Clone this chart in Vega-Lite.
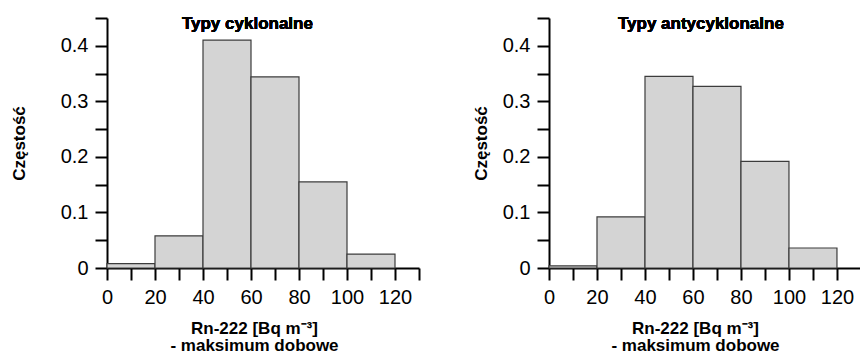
{
  "$schema": "https://vega.github.io/schema/vega-lite/v6.json",
  "background": "white",
  "padding": {"left": 10, "top": 8, "right": 0, "bottom": 0},
  "spacing": 130,
  "bounds": "flush",
  "datasets": {
    "cyklonalne": [
      {"start": 0, "end": 20, "freq": 0.008},
      {"start": 20, "end": 40, "freq": 0.058},
      {"start": 40, "end": 60, "freq": 0.41},
      {"start": 60, "end": 80, "freq": 0.344},
      {"start": 80, "end": 100, "freq": 0.155},
      {"start": 100, "end": 120, "freq": 0.025}
    ],
    "antycyklonalne": [
      {"start": 0, "end": 20, "freq": 0.004},
      {"start": 20, "end": 40, "freq": 0.092},
      {"start": 40, "end": 60, "freq": 0.345},
      {"start": 60, "end": 80, "freq": 0.327},
      {"start": 80, "end": 100, "freq": 0.192},
      {"start": 100, "end": 120, "freq": 0.036}
    ]
  },
  "hconcat": [
    {
      "width": 312,
      "height": 250,
      "data": {"name": "cyklonalne"},
      "encoding": {
        "x": {"field": "start", "type": "quantitative", "scale": {"domain": [0, 130], "nice": false, "zero": false},
          "axis": {"values": [0, 10, 20, 30, 40, 50, 60, 70, 80, 90, 100, 110, 120, 130],
            "labelExpr": "datum.value % 20 == 0 && datum.value <= 120 ? datum.label : ''",
            "title": ["Rn-222 [Bq m⁻³]", "- maksimum dobowe"],
            "titleX": 147, "titleY": 65, "titleBaseline": "alphabetic", "titleAlign": "center", "titleLineHeight": 17.5}},
        "y": {"field": "freq", "type": "quantitative", "scale": {"domain": [0, 0.45], "nice": false},
          "axis": {"values": [0, 0.05, 0.1, 0.15, 0.2, 0.25, 0.3, 0.35, 0.4, 0.45],
            "labelExpr": "abs(datum.value*10 - round(datum.value*10)) < 0.001 && datum.value < 0.42 ? (datum.value == 0 ? '0' : format(datum.value, '.1f')) : ''",
            "title": "Częstość", "titleX": -82.5, "titleY": 125, "titleAngle": 270, "titleBaseline": "alphabetic", "titleAlign": "center"}}
      },
      "layer": [
        {
          "mark": {"type": "bar", "fill": "#d4d4d4", "stroke": "#3c3c3c", "strokeWidth": 1.2},
          "encoding": {"x2": {"field": "end"}, "y2": {"datum": 0}}
        },
        {
          "mark": {"type": "text", "text": "Typy cyklonalne", "fontSize": 17, "fontWeight": "bold", "font": "Liberation Sans, Arial, sans-serif", "color": "black", "align": "center", "baseline": "alphabetic"},
          "encoding": {"x": {"datum": 58.5, "type": "quantitative"}, "y": {"datum": 0.4306, "type": "quantitative"}}
        }
      ]
    },
    {
      "width": 311,
      "height": 250,
      "data": {"name": "antycyklonalne"},
      "encoding": {
        "x": {"field": "start", "type": "quantitative", "scale": {"domain": [0, 129.6], "nice": false, "zero": false},
          "axis": {"values": [0, 10, 20, 30, 40, 50, 60, 70, 80, 90, 100, 110, 120],
            "labelExpr": "datum.value % 20 == 0 && datum.value <= 120 ? datum.label : ''",
            "title": ["Rn-222  [Bq m⁻³]", "- maksimum dobowe"],
            "titleX": 146, "titleY": 65, "titleBaseline": "alphabetic", "titleAlign": "center", "titleLineHeight": 17.5}},
        "y": {"field": "freq", "type": "quantitative", "scale": {"domain": [0, 0.45], "nice": false},
          "axis": {"values": [0, 0.05, 0.1, 0.15, 0.2, 0.25, 0.3, 0.35, 0.4, 0.45],
            "labelExpr": "abs(datum.value*10 - round(datum.value*10)) < 0.001 && datum.value < 0.42 ? (datum.value == 0 ? '0' : format(datum.value, '.1f')) : ''",
            "title": "Częstość", "titleX": -62.5, "titleY": 125, "titleAngle": 270, "titleBaseline": "alphabetic", "titleAlign": "center"}}
      },
      "layer": [
        {
          "mark": {"type": "bar", "fill": "#d4d4d4", "stroke": "#3c3c3c", "strokeWidth": 1.2},
          "encoding": {"x2": {"field": "end"}, "y2": {"datum": 0}}
        },
        {
          "mark": {"type": "text", "text": "Typy antycyklonalne", "fontSize": 17, "fontWeight": "bold", "font": "Liberation Sans, Arial, sans-serif", "color": "black", "align": "center", "baseline": "alphabetic"},
          "encoding": {"x": {"datum": 63.3, "type": "quantitative"}, "y": {"datum": 0.431, "type": "quantitative"}}
        }
      ]
    }
  ],
  "config": {
    "view": {"stroke": null},
    "axis": {
      "grid": false,
      "domainColor": "black", "domainWidth": 2,
      "tickColor": "black", "tickWidth": 2, "tickSize": 12,
      "labelFont": "Liberation Sans, Arial, sans-serif", "labelFontSize": 20, "labelColor": "black",
      "labelPadding": 7, "labelFlush": false, "labelOverlap": false,
      "titleFont": "Liberation Sans, Arial, sans-serif", "titleFontSize": 17, "titleFontWeight": "bold", "titleColor": "black"
    }
  }
}
